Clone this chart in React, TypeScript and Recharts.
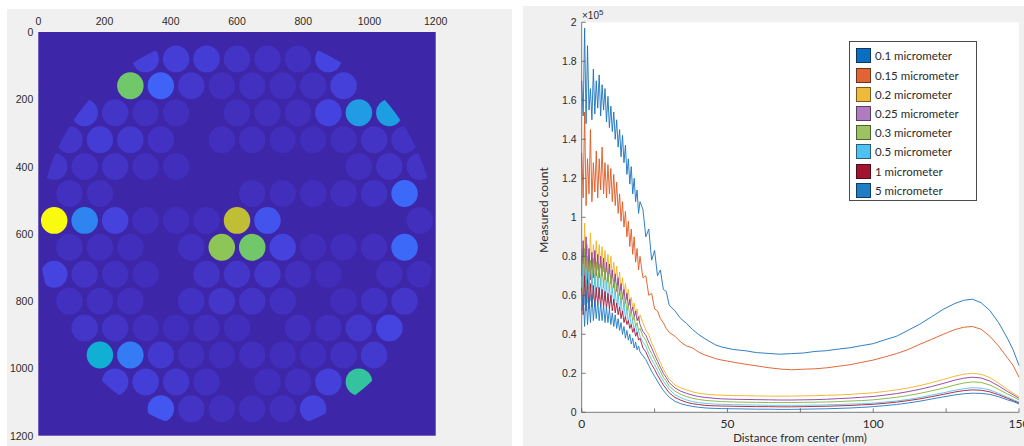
import React from "react";
import {
  CartesianGrid,
  ComposedChart,
  Line,
  LineChart,
  ReferenceArea,
  Scatter,
  ScatterChart,
  XAxis,
  YAxis,
} from "recharts";

// ---------- wafer map (left) ----------
// site rows (map units, 0..1200 from the top), x of every site in the row, and its count
const ROW_Y = [80, 160, 240, 320, 400, 480, 560, 640, 720, 800, 880, 960, 1040, 1120];
const ROW_X = [
  [324, 416, 508, 600, 692, 784, 876],
  [278, 370, 462, 554, 646, 738, 830, 922],
  [140, 232, 324, 416, 600, 692, 784, 876, 968, 1060],
  [94, 186, 278, 370, 554, 646, 738, 830, 922, 1014, 1106],
  [48, 140, 232, 324, 416, 968, 1060, 1152],
  [94, 186, 646, 738, 830, 922, 1014, 1106],
  [48, 140, 232, 324, 416, 508, 600, 692, 1152],
  [94, 186, 278, 462, 554, 646, 738, 830, 922, 1014, 1106],
  [48, 140, 232, 324, 508, 600, 692, 784, 876, 1060, 1152],
  [94, 186, 278, 462, 554, 646, 738, 922, 1014, 1106],
  [140, 232, 324, 416, 508, 600, 784, 876, 968, 1060],
  [186, 278, 370, 462, 554, 646, 738, 830, 922, 1014],
  [232, 324, 416, 508, 692, 784, 876, 968],
  [370, 462, 554, 646, 738, 830],
];
const ROW_COUNTS = [
  [200, 185, 180, 130, 115, 110, 220],
  [1180, 370, 150, 95, 110, 100, 105, 200],
  [200, 135, 105, 100, 100, 95, 100, 215, 700, 720],
  [140, 180, 160, 115, 95, 100, 90, 90, 95, 130, 125],
  [140, 115, 130, 95, 90, 100, 130, 130],
  [110, 100, 100, 90, 90, 100, 120, 400],
  [1800, 560, 210, 90, 90, 90, 1380, 300, 95],
  [105, 100, 90, 110, 1250, 1180, 210, 80, 90, 100, 400],
  [220, 130, 110, 90, 130, 140, 150, 100, 80, 100, 90],
  [110, 110, 100, 120, 140, 130, 110, 80, 120, 140],
  [140, 130, 100, 90, 100, 90, 100, 100, 150, 220],
  [820, 500, 160, 100, 90, 100, 90, 90, 110, 160],
  [200, 190, 150, 110, 90, 100, 200, 1030],
  [310, 130, 100, 100, 100, 210],
];
const MAP_TICKS = [0, 200, 400, 600, 800, 1000, 1200];
const COLORBAR_TICKS = [0, 200, 400, 600, 800, 1000, 1200, 1400, 1600, 1800];

// ---------- radial profile (right) ----------
const DIST_MM = [
  0, 0.5, 1, 1.5, 2, 2.5, 3, 3.5, 4, 4.5,
  5, 5.5, 6, 6.5, 7, 7.5, 8, 8.5, 9, 9.5,
  10, 10.5, 11, 11.5, 12, 12.5, 13, 13.5, 14, 14.5,
  15, 15.5, 16, 16.5, 17, 17.5, 18, 18.5, 19, 19.5,
  20,
  21, 22, 23, 24, 25, 26, 27, 28, 29, 30,
  32, 34, 36, 38, 40, 42, 44, 46, 48,
  52, 56, 60, 64, 68, 72, 76, 80, 84, 88, 92, 96, 100, 104, 108, 112, 116, 120, 124,
  128, 131, 134, 137, 140, 143, 146, 148, 150,
];
// counts in units of 10^5, same grouping as DIST_MM
const P010 = [
  1.7, 1.52, 1.97, 1.48, 1.88, 1.55, 1.66, 1.5, 1.76, 1.53,
  1.7, 1.56, 1.73, 1.52, 1.68, 1.55, 1.66, 1.49, 1.62, 1.46,
  1.57, 1.44, 1.54, 1.4, 1.5, 1.36, 1.45, 1.31, 1.42, 1.28,
  1.37, 1.22, 1.3, 1.17, 1.26, 1.12, 1.2, 1.08, 1.14, 1.02,
  1.08,
  1.04, 0.9, 0.94, 0.78, 0.83, 0.7, 0.73, 0.63, 0.62, 0.55,
  0.52, 0.48, 0.455, 0.425, 0.4, 0.38, 0.362, 0.345, 0.335,
  0.322, 0.316, 0.306, 0.302, 0.298, 0.301, 0.304, 0.312, 0.316, 0.324, 0.331, 0.342, 0.352, 0.372, 0.39, 0.421, 0.452, 0.49, 0.528,
  0.558, 0.574, 0.58, 0.562, 0.522, 0.46, 0.38, 0.32, 0.24,
];
const P015 = [
  1.33, 1.1, 1.54, 1.06, 1.3, 1.12, 1.45, 1.08, 1.28, 1.13,
  1.34, 1.1, 1.3, 1.14, 1.36, 1.12, 1.28, 1.1, 1.27, 1.12,
  1.25, 1.08, 1.22, 1.06, 1.18, 1.02, 1.12, 0.98, 1.08, 0.95,
  1.03, 0.9, 0.98, 0.85, 0.94, 0.81, 0.9, 0.77, 0.84, 0.73,
  0.8,
  0.69, 0.7, 0.6, 0.61, 0.53, 0.52, 0.48, 0.46, 0.43, 0.41,
  0.39, 0.36, 0.34, 0.33, 0.31, 0.295, 0.285, 0.275, 0.268,
  0.257, 0.247, 0.238, 0.229, 0.222, 0.218, 0.221, 0.223, 0.228, 0.236, 0.244, 0.256, 0.268, 0.284, 0.301, 0.322, 0.349, 0.374, 0.4,
  0.424, 0.436, 0.44, 0.426, 0.39, 0.34, 0.28, 0.24, 0.18,
];
const P020 = [
  0.84, 0.68, 0.97, 0.7, 0.86, 0.72, 0.92, 0.73, 0.86, 0.74,
  0.88, 0.73, 0.86, 0.74, 0.85, 0.72, 0.83, 0.72, 0.81, 0.71,
  0.8, 0.69, 0.77, 0.67, 0.75, 0.65, 0.72, 0.63, 0.69, 0.61,
  0.66, 0.58, 0.63, 0.55, 0.59, 0.53, 0.56, 0.5, 0.53, 0.47,
  0.5,
  0.46, 0.42, 0.4, 0.355, 0.325, 0.285, 0.255, 0.22, 0.195, 0.17,
  0.14, 0.125, 0.115, 0.105, 0.098, 0.094, 0.091, 0.089, 0.088,
  0.086, 0.085, 0.084, 0.083, 0.083, 0.083, 0.084, 0.085, 0.087, 0.089, 0.092, 0.096, 0.1, 0.107, 0.115, 0.125, 0.137, 0.152, 0.168,
  0.185, 0.195, 0.2, 0.195, 0.178, 0.15, 0.118, 0.098, 0.08,
];
const P025 = [
  0.7, 0.88, 0.64, 0.9, 0.66, 0.84, 0.68, 0.82, 0.69, 0.83,
  0.7, 0.81, 0.69, 0.8, 0.7, 0.79, 0.68, 0.77, 0.67, 0.76,
  0.66, 0.73, 0.64, 0.71, 0.62, 0.69, 0.6, 0.66, 0.58, 0.63,
  0.56, 0.61, 0.54, 0.58, 0.51, 0.54, 0.49, 0.52, 0.47, 0.49,
  0.45,
  0.415, 0.395, 0.36, 0.33, 0.295, 0.262, 0.23, 0.2, 0.178, 0.152,
  0.125, 0.108, 0.097, 0.088, 0.081, 0.077, 0.074, 0.071, 0.069,
  0.067, 0.066, 0.065, 0.064, 0.063, 0.063, 0.064, 0.065, 0.067, 0.07, 0.073, 0.077, 0.081, 0.088, 0.096, 0.106, 0.118, 0.132, 0.148,
  0.165, 0.175, 0.18, 0.176, 0.16, 0.135, 0.107, 0.09, 0.072,
];
const P030 = [
  0.8, 0.6, 0.84, 0.62, 0.8, 0.63, 0.78, 0.64, 0.79, 0.65,
  0.77, 0.64, 0.76, 0.65, 0.75, 0.64, 0.74, 0.63, 0.72, 0.62,
  0.7, 0.61, 0.68, 0.6, 0.66, 0.58, 0.63, 0.56, 0.61, 0.54,
  0.58, 0.52, 0.55, 0.49, 0.52, 0.47, 0.49, 0.44, 0.46, 0.42,
  0.43,
  0.39, 0.37, 0.33, 0.3, 0.27, 0.24, 0.21, 0.18, 0.16, 0.135,
  0.108, 0.092, 0.08, 0.072, 0.066, 0.062, 0.059, 0.057, 0.055,
  0.053, 0.052, 0.051, 0.05, 0.05, 0.05, 0.051, 0.052, 0.053, 0.055, 0.058, 0.06, 0.064, 0.07, 0.077, 0.086, 0.097, 0.11, 0.124,
  0.14, 0.15, 0.156, 0.153, 0.14, 0.118, 0.094, 0.08, 0.063,
];
const P050 = [
  0.62, 0.76, 0.55, 0.74, 0.56, 0.72, 0.57, 0.71, 0.58, 0.7,
  0.59, 0.7, 0.58, 0.69, 0.58, 0.68, 0.57, 0.67, 0.56, 0.65,
  0.56, 0.64, 0.55, 0.62, 0.54, 0.6, 0.52, 0.58, 0.5, 0.56,
  0.48, 0.53, 0.46, 0.5, 0.44, 0.47, 0.42, 0.45, 0.4, 0.42,
  0.39,
  0.36, 0.34, 0.3, 0.27, 0.245, 0.215, 0.185, 0.16, 0.14, 0.118,
  0.09, 0.075, 0.063, 0.055, 0.05, 0.046, 0.044, 0.042, 0.041,
  0.039, 0.038, 0.037, 0.036, 0.036, 0.036, 0.036, 0.037, 0.038, 0.04, 0.042, 0.044, 0.047, 0.052, 0.058, 0.066, 0.076, 0.088, 0.1,
  0.113, 0.121, 0.126, 0.124, 0.115, 0.097, 0.077, 0.065, 0.052,
];
const P100 = [
  0.64, 0.5, 0.7, 0.52, 0.68, 0.53, 0.66, 0.54, 0.65, 0.54,
  0.64, 0.55, 0.64, 0.54, 0.63, 0.54, 0.62, 0.53, 0.61, 0.53,
  0.6, 0.52, 0.58, 0.51, 0.56, 0.5, 0.54, 0.48, 0.52, 0.46,
  0.49, 0.45, 0.47, 0.43, 0.45, 0.41, 0.43, 0.39, 0.41, 0.37,
  0.38,
  0.33, 0.31, 0.275, 0.245, 0.22, 0.19, 0.165, 0.14, 0.12, 0.1,
  0.076, 0.062, 0.051, 0.044, 0.04, 0.036, 0.034, 0.033, 0.032,
  0.031, 0.03, 0.029, 0.029, 0.028, 0.028, 0.029, 0.03, 0.031, 0.033, 0.035, 0.038, 0.041, 0.046, 0.052, 0.06, 0.069, 0.08, 0.092,
  0.104, 0.111, 0.115, 0.113, 0.105, 0.09, 0.072, 0.06, 0.047,
];
const P500 = [
  0.52, 0.6, 0.44, 0.62, 0.45, 0.58, 0.46, 0.6, 0.47, 0.57,
  0.48, 0.57, 0.47, 0.56, 0.47, 0.55, 0.46, 0.54, 0.46, 0.53,
  0.45, 0.51, 0.44, 0.5, 0.43, 0.48, 0.42, 0.46, 0.4, 0.44,
  0.38, 0.42, 0.37, 0.4, 0.35, 0.38, 0.33, 0.36, 0.32, 0.34,
  0.31,
  0.29, 0.27, 0.24, 0.21, 0.185, 0.16, 0.135, 0.112, 0.094, 0.078,
  0.056, 0.044, 0.036, 0.03, 0.026, 0.023, 0.021, 0.02, 0.019,
  0.018, 0.017, 0.016, 0.016, 0.015, 0.015, 0.016, 0.017, 0.018, 0.02, 0.022, 0.025, 0.029, 0.034, 0.04, 0.048, 0.057, 0.068, 0.079,
  0.089, 0.095, 0.098, 0.097, 0.092, 0.08, 0.064, 0.055, 0.043,
];
const DIST_TICKS = [0, 25, 50, 75, 100, 125, 150];
const COUNT_TICKS = [0, 0.2, 0.4, 0.6, 0.8, 1, 1.2, 1.4, 1.6, 1.8, 2];

const SERIES = [
  { key: "p010", name: "0.1 micrometer", values: P010, line: "#1a72bd", swatch: "#0b6ec0" },
  { key: "p015", name: "0.15 micrometer", values: P015, line: "#dd5a22", swatch: "#e06434" },
  { key: "p020", name: "0.2 micrometer", values: P020, line: "#eeb224", swatch: "#efb93a" },
  { key: "p025", name: "0.25 micrometer", values: P025, line: "#8e3c9e", swatch: "#b07cc0" },
  { key: "p030", name: "0.3 micrometer", values: P030, line: "#7fb23a", swatch: "#9dc262" },
  { key: "p050", name: "0.5 micrometer", values: P050, line: "#55c2ee", swatch: "#4fc1f0" },
  { key: "p100", name: "1 micrometer", values: P100, line: "#a81a35", swatch: "#a11530" },
  { key: "p500", name: "5 micrometer", values: P500, line: "#1f78c2", swatch: "#1f7dc4" },
];

const profileRows = DIST_MM.map((mm, i) => {
  const row: Record<string, number> = { mm };
  SERIES.forEach((s) => (row[s.key] = s.values[i]));
  return row;
});

// parula-like colormap stops
const PARULA: [number, string][] = [
  [0, "#3e26a8"],
  [0.06, "#4230c0"],
  [0.12, "#4543df"],
  [0.18, "#4359f2"],
  [0.24, "#3a70fb"],
  [0.32, "#2d88f0"],
  [0.4, "#1e9ee2"],
  [0.46, "#0fb0d2"],
  [0.52, "#12bcb8"],
  [0.58, "#38c49a"],
  [0.66, "#74c868"],
  [0.72, "#a0c448"],
  [0.78, "#c8bc30"],
  [0.86, "#f5b83e"],
  [0.92, "#fcc832"],
  [1, "#f9fb0e"],
];

function rgb(h: string) {
  return [1, 3, 5].map((i) => parseInt(h.slice(i, i + 2), 16));
}

function parula(t: number) {
  const v = Math.max(0, Math.min(1, t));
  for (let i = 1; i < PARULA.length; i++) {
    const [t1, c1] = PARULA[i];
    if (v <= t1) {
      const [t0, c0] = PARULA[i - 1];
      const f = (v - t0) / (t1 - t0);
      const a = rgb(c0);
      const b = rgb(c1);
      return `rgb(${a.map((x, k) => Math.round(x + (b[k] - x) * f)).join(",")})`;
    }
  }
  return PARULA[PARULA.length - 1][1];
}

const AXIS = "#5c5c5c";
const TEXT = "#2b2b2b";
const NUM_FONT = '"Liberation Sans", Arial, sans-serif';
const UI_FONT = 'Lato, "Open Sans", sans-serif';

// map geometry (plot area 397.4 x 403.7 px)
const MAP_W = 460;
const MAP_H = 446;
const MAP_MARGIN = { top: 12, right: 24.3, bottom: 10.3, left: 0 };
const MAP_YAXIS_W = 38.3;
const MAP_XAXIS_H = 20;
const MAP_PLOT_W = MAP_W - MAP_MARGIN.left - MAP_MARGIN.right - MAP_YAXIS_W;
const MAP_PLOT_H = MAP_H - MAP_MARGIN.top - MAP_XAXIS_H - MAP_MARGIN.bottom;
const SITE_R = 40;
const WAFER_R = 598;
const WAFER_C = 600;

const sites = ROW_Y.flatMap((y, r) =>
  ROW_X[r].map((x, i) => ({ id: `${r}-${i}`, x, y, count: ROW_COUNTS[r][i] }))
);

function SiteShape(props: any) {
  const { cx, cy, payload } = props;
  const kx = MAP_PLOT_W / 1200;
  const ky = MAP_PLOT_H / 1200;
  const id = `wafer-${payload.id}`;
  return (
    <g>
      <clipPath id={id}>
        <ellipse
          cx={cx + (WAFER_C - payload.x) * kx}
          cy={cy + (WAFER_C - payload.y) * ky}
          rx={WAFER_R * kx}
          ry={WAFER_R * ky}
        />
      </clipPath>
      <ellipse
        cx={cx}
        cy={cy}
        rx={SITE_R * kx}
        ry={SITE_R * ky}
        fill={parula(payload.count / 1800)}
        clipPath={`url(#${id})`}
      />
    </g>
  );
}

const numText = { fontSize: 10.5, fontFamily: NUM_FONT, fill: TEXT };

const MapTopTick = ({ x, y, payload }: any) => (
  <text x={x} y={y - 11} textAnchor="middle" dominantBaseline="central" {...numText}>
    {payload.value}
  </text>
);

const MapLeftTick = ({ x, y, payload }: any) => (
  <text x={x - 5} y={y} textAnchor="end" dominantBaseline="central" {...numText}>
    {payload.value}
  </text>
);

const ColorbarTick = ({ x, y, payload }: any) => (
  <g>
    <line x1={x - 3} x2={x} y1={y} y2={y} stroke={AXIS} strokeWidth={0.8} />
    <text x={x + 6} y={y} textAnchor="start" dominantBaseline="central" {...numText}>
      {payload.value}
    </text>
  </g>
);

const CountTick = ({ x, y, payload }: any) => (
  <g>
    <line x1={x} x2={x + 4} y1={y} y2={y} stroke={AXIS} strokeWidth={0.8} />
    <text x={x - 5} y={y} textAnchor="end" dominantBaseline="central" {...numText}>
      {payload.value}
    </text>
  </g>
);

const DistTick = ({ x, y, payload }: any) => (
  <g>
    <line x1={x} x2={x} y1={y} y2={y - 4} stroke={AXIS} strokeWidth={0.8} />
    {payload.value % 50 === 0 && (
      <text
        x={x}
        y={y + 11}
        textAnchor="middle"
        dominantBaseline="central"
        fontSize={12}
        fontFamily={UI_FONT}
        fill={TEXT}
      >
        {payload.value}
      </text>
    )}
  </g>
);

const TopTick = ({ x, y }: any) => (
  <line x1={x} x2={x} y1={y} y2={y + 4} stroke={AXIS} strokeWidth={0.8} />
);

const RightTick = ({ x, y }: any) => (
  <line x1={x} x2={x - 4} y1={y} y2={y} stroke={AXIS} strokeWidth={0.8} />
);

export default function App() {
  return (
    <div
      style={{
        position: "absolute",
        left: 0,
        top: 0,
        width: 1024,
        height: 446,
        background: "#fff",
        overflow: "hidden",
      }}
    >
      <div style={{ position: "absolute", left: 7, top: 9, width: 505, height: 437, background: "#f0f0f0" }} />
      <div style={{ position: "absolute", left: 523, top: 6, width: 501, height: 440, background: "#f0f0f0" }} />

      {/* wafer map */}
      <div style={{ position: "absolute", left: 0, top: 0 }}>
        <ScatterChart width={MAP_W} height={MAP_H} margin={MAP_MARGIN}>
          <CartesianGrid horizontal={false} vertical={false} fill={parula(0)} fillOpacity={1} />
          <XAxis
            dataKey="x"
            type="number"
            orientation="top"
            domain={[0, 1200]}
            ticks={MAP_TICKS}
            interval={0}
            height={MAP_XAXIS_H}
            tickSize={0}
            tickMargin={0}
            tickLine={false}
            axisLine={false}
            tick={MapTopTick}
          />
          <YAxis
            dataKey="y"
            type="number"
            reversed
            domain={[0, 1200]}
            ticks={MAP_TICKS}
            interval={0}
            width={MAP_YAXIS_W}
            tickSize={0}
            tickMargin={0}
            tickLine={false}
            axisLine={false}
            tick={MapLeftTick}
          />
          <Scatter data={sites} shape={SiteShape} isAnimationActive={false} />
        </ScatterChart>
      </div>

      {/* colorbar */}
      <div style={{ position: "absolute", left: 440, top: 0 }}>
        <ComposedChart
          width={80}
          height={446}
          data={[{ x: 0 }, { x: 1 }]}
          margin={{ top: 32, right: 0, bottom: 10.3, left: 26 }}
        >
          <defs>
            <linearGradient id="parulaBar" x1="0" y1="1" x2="0" y2="0">
              {PARULA.map(([t, c]) => (
                <stop key={t} offset={t} stopColor={c} />
              ))}
            </linearGradient>
          </defs>
          <XAxis dataKey="x" type="number" domain={[0, 1]} hide />
          <YAxis
            orientation="right"
            type="number"
            domain={[0, 1800]}
            ticks={COLORBAR_TICKS}
            interval={0}
            width={38}
            tickSize={0}
            tickMargin={0}
            tickLine={false}
            axisLine={false}
            tick={ColorbarTick}
          />
          <ReferenceArea
            x1={0}
            x2={1}
            y1={0}
            y2={1800}
            fill="url(#parulaBar)"
            fillOpacity={1}
            stroke="#666"
            strokeWidth={0.8}
          />
        </ComposedChart>
      </div>

      {/* radial profile */}
      <div style={{ position: "absolute", left: 523, top: 0 }}>
        <LineChart
          width={501}
          height={446}
          data={profileRows}
          margin={{ top: 22.3, right: 5, bottom: 13.7, left: 8.7 }}
        >
          <CartesianGrid horizontal={false} vertical={false} fill="#ffffff" fillOpacity={1} />
          <XAxis
            dataKey="mm"
            type="number"
            domain={[0, 150]}
            ticks={DIST_TICKS}
            interval={0}
            height={20}
            tickSize={0}
            tickMargin={0}
            tickLine={false}
            axisLine={{ stroke: AXIS, strokeWidth: 0.8 }}
            tick={DistTick}
          />
          <XAxis
            xAxisId="top"
            orientation="top"
            type="number"
            domain={[0, 150]}
            ticks={DIST_TICKS}
            interval={0}
            height={0}
            tickSize={0}
            tickMargin={0}
            tickLine={false}
            axisLine={{ stroke: AXIS, strokeWidth: 0.8 }}
            tick={TopTick}
          />
          <YAxis
            type="number"
            domain={[0, 2]}
            ticks={COUNT_TICKS}
            interval={0}
            width={50}
            tickSize={0}
            tickMargin={0}
            tickLine={false}
            axisLine={{ stroke: AXIS, strokeWidth: 0.8 }}
            tick={CountTick}
          />
          <YAxis
            yAxisId="right"
            orientation="right"
            type="number"
            domain={[0, 2]}
            ticks={COUNT_TICKS}
            interval={0}
            width={0}
            tickSize={0}
            tickMargin={0}
            tickLine={false}
            axisLine={{ stroke: AXIS, strokeWidth: 0.8 }}
            tick={RightTick}
          />
          {SERIES.map((s) => (
            <Line
              key={s.key}
              dataKey={s.key}
              type="linear"
              stroke={s.line}
              strokeWidth={1}
              strokeOpacity={0.9}
              dot={false}
              activeDot={false}
              isAnimationActive={false}
            />
          ))}
        </LineChart>
      </div>

      {/* exponent and axis titles */}
      <div
        style={{
          position: "absolute",
          left: 582,
          top: 10,
          fontFamily: NUM_FONT,
          fontSize: 10,
          color: TEXT,
          lineHeight: "12px",
          whiteSpace: "nowrap",
        }}
      >
        ×10<sup style={{ fontSize: 8, verticalAlign: 4, lineHeight: 0 }}>5</sup>
      </div>
      <div
        style={{
          position: "absolute",
          left: 542.7,
          top: 210,
          transform: "translate(-50%, -50%) rotate(-90deg)",
          fontFamily: UI_FONT,
          fontSize: 12,
          color: TEXT,
          whiteSpace: "nowrap",
        }}
      >
        Measured count
      </div>
      <div
        style={{
          position: "absolute",
          left: 800,
          top: 437,
          transform: "translate(-50%, -50%)",
          fontFamily: UI_FONT,
          fontSize: 11.5,
          color: TEXT,
          whiteSpace: "nowrap",
        }}
      >
        Distance from center (mm)
      </div>

      {/* legend */}
      <div
        style={{
          position: "absolute",
          left: 849,
          top: 41,
          width: 128,
          height: 160,
          boxSizing: "border-box",
          border: "1px solid #4a4a4a",
          background: "#fff",
          paddingTop: 4.4,
        }}
      >
        {SERIES.map((s) => (
          <div key={s.key} style={{ display: "flex", alignItems: "center", height: 19.2 }}>
            <span
              style={{
                width: 15,
                height: 15,
                marginLeft: 6,
                boxSizing: "border-box",
                border: "1px solid rgba(0,0,0,0.5)",
                background: s.swatch,
                flexShrink: 0,
              }}
            />
            <span
              style={{
                marginLeft: 4,
                fontFamily: UI_FONT,
                fontSize: 11.5,
                color: TEXT,
                whiteSpace: "nowrap",
              }}
            >
              {s.name}
            </span>
          </div>
        ))}
      </div>
    </div>
  );
}
